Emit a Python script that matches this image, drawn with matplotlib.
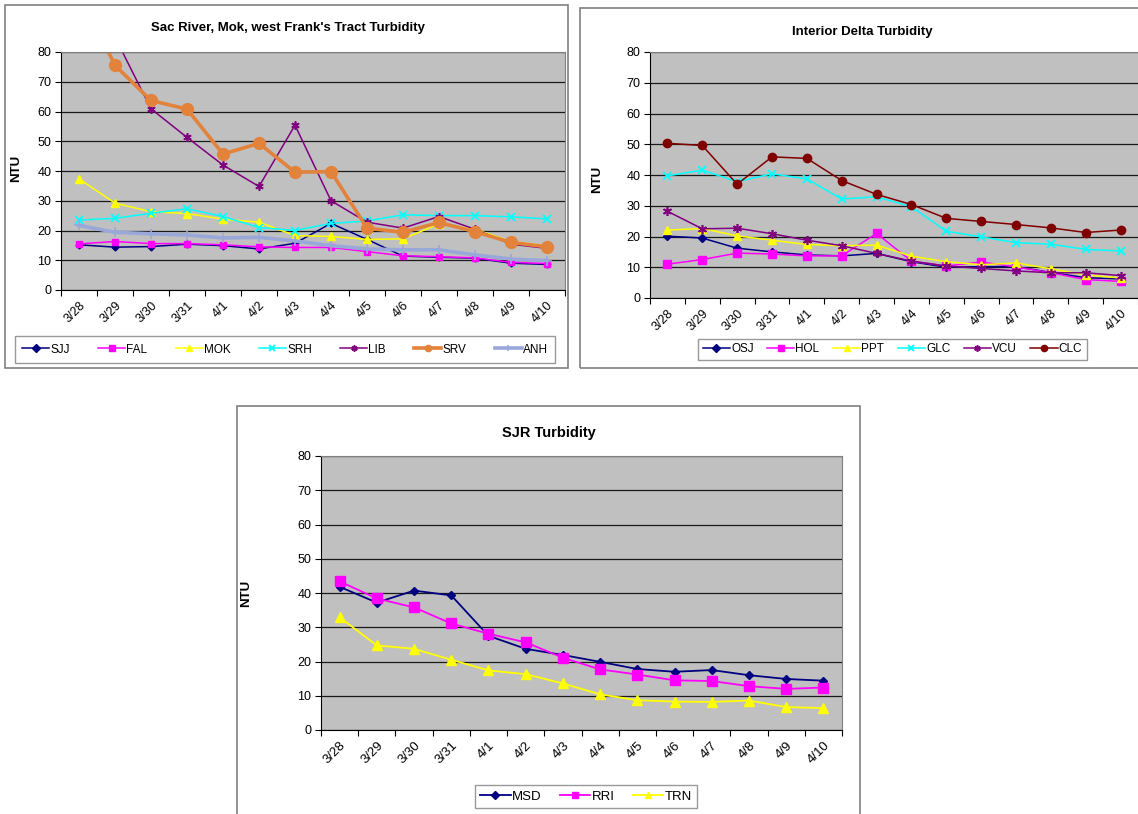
import matplotlib
matplotlib.use("Agg")
import matplotlib.pyplot as plt
from matplotlib.patches import Rectangle
import numpy as np

plt.rcParams['font.family'] = ['Liberation Sans', 'DejaVu Sans']

dates = ["3/28", "3/29", "3/30", "3/31", "4/1", "4/2", "4/3",
         "4/4", "4/5", "4/6", "4/7", "4/8", "4/9", "4/10"]

# Chart 1: Sac River, Mok, west Frank's Tract
sjj = [15.2, 14.4, 14.6, 15.4, 14.9, 13.8, 15.7, 22.4, 17.0, 11.4, 11.0, 10.7, 9.0, 8.6]
fal = [15.5, 16.3, 15.6, 15.6, 15.2, 14.5, 14.3, 14.3, 12.9, 11.5, 11.2, 10.8, 9.3, 8.9]
mok = [37.4, 29.2, 26.3, 25.7, 23.8, 22.8, 18.3, 18.0, 17.0, 17.2, 22.2, 20.4, 16.3, 14.9]
srh = [23.5, 24.1, 25.8, 27.3, 24.7, 21.0, 20.0, 22.4, 23.2, 25.3, 25.0, 25.0, 24.6, 23.9]
lib = [95.0, 85.0, 60.9, 51.3, 42.0, 34.8, 55.4, 30.0, 22.8, 20.8, 24.7, 20.4, 15.4, 14.0]
srv = [100.0, 75.5, 63.7, 60.8, 45.7, 49.3, 39.6, 39.8, 20.8, 19.4, 22.7, 19.6, 16.0, 14.5]
anh = [21.7, 19.4, 18.9, 18.5, 17.5, 17.7, 16.5, 14.9, 13.8, 13.5, 13.5, 11.8, 10.4, 9.9]

# Chart 2: Interior Delta
osj = [20.1, 19.5, 16.2, 15.0, 14.0, 13.7, 14.5, 11.8, 10.0, 10.2, 10.2, 8.3, 6.6, 6.2]
hol = [11.0, 12.5, 14.6, 14.3, 13.7, 13.7, 21.0, 12.0, 10.4, 11.7, 10.1, 8.2, 6.0, 5.4]
ppt = [22.1, 22.6, 20.2, 18.8, 17.4, 17.0, 17.2, 13.6, 11.8, 10.8, 11.4, 9.5, 7.5, 6.5]
glc = [39.7, 41.6, 37.8, 40.4, 38.7, 32.2, 32.9, 29.7, 21.7, 19.9, 18.0, 17.5, 15.8, 15.3]
vcu = [28.2, 22.5, 22.7, 20.9, 18.8, 17.0, 14.5, 12.0, 10.4, 9.6, 8.8, 8.2, 8.2, 7.3]
clc = [50.3, 49.6, 37.0, 45.9, 45.4, 38.2, 33.7, 30.4, 25.9, 24.9, 23.9, 22.8, 21.3, 22.1]

# Chart 3: SJR
msd = [41.8, 37.2, 40.7, 39.3, 27.5, 23.7, 21.9, 19.9, 17.8, 17.0, 17.5, 16.0, 14.9, 14.4]
rri = [43.4, 38.4, 35.8, 31.1, 28.1, 25.6, 21.1, 17.7, 16.2, 14.5, 14.3, 12.8, 12.0, 12.4]
trn = [32.9, 24.7, 23.7, 20.5, 17.4, 16.3, 13.6, 10.4, 8.7, 8.3, 8.2, 8.6, 6.7, 6.4]

W, H = 1138, 814
fig = plt.figure(figsize=(W / 100, H / 100), dpi=100)
fig.patch.set_facecolor('white')


def fx(x):
    return x / W


def fy(y):
    return 1 - y / H


def panel(x0, y0, x1, y1):
    fig.add_artist(Rectangle((fx(x0), fy(y1)), fx(x1) - fx(x0), fy(y0) - fy(y1),
                             transform=fig.transFigure, fill=False,
                             edgecolor='#808080', linewidth=1.2))


def make_axes(l, t, r, b, xfs=9):
    ax = fig.add_axes([fx(l), fy(b), fx(r) - fx(l), fy(t) - fy(b)])
    ax.set_facecolor('#C0C0C0')
    ax.set_xlim(-0.5, len(dates) - 0.5)
    ax.set_ylim(0, 80)
    ax.set_yticks(np.arange(0, 81, 10))
    ax.yaxis.grid(True, color='#1a1a1a', linewidth=0.9)
    ax.set_axisbelow(True)
    ax.set_xticks(np.arange(-0.5, len(dates), 1.0))
    ax.set_xticklabels([])
    ax.set_xticks(np.arange(len(dates)), minor=True)
    ax.set_xticklabels(dates, minor=True, rotation=45, ha='right', va='top',
                       rotation_mode='anchor', fontsize=xfs)
    ax.tick_params(axis='x', which='minor', length=0, pad=7)
    ax.tick_params(axis='x', which='major', length=4, direction='out', color='black')
    ax.tick_params(axis='y', length=4, direction='out', labelsize=9, pad=3)
    for s in ['top', 'right']:
        ax.spines[s].set_color('#808080')
    for s in ['left', 'bottom']:
        ax.spines[s].set_color('black')
    ax.set_ylabel('NTU', fontsize=9.5, fontweight='bold')
    return ax


def shrink_legend_markers(leg, size=4.5):
    for h in leg.legend_handles:
        h.set_markersize(size)


x = np.arange(len(dates))
thin = 1.1

# ---------- Panel 1 ----------
panel(5, 5, 568, 368)
ax1 = make_axes(61, 52, 565, 290)
ax1.yaxis.set_label_coords(-0.077, 0.51)
ax1.plot(x, sjj, color='#000080', marker='D', ms=3.5, lw=thin, label='SJJ')
ax1.plot(x, fal, color='#FF00FF', marker='s', ms=5, lw=thin, label='FAL')
ax1.plot(x, mok, color='#FFFF00', marker='^', ms=5.5, lw=thin, label='MOK')
ax1.plot(x, srh, color='#00FFFF', marker='x', ms=5.5, mew=1.3, lw=thin, label='SRH')
ax1.plot(x, lib, color='#800080', marker=(6, 2, 0), ms=6, mew=1.2, lw=thin, label='LIB')
ax1.plot(x, srv, color='#E3823B', marker='o', ms=8.5, lw=2.6, label='SRV')
ax1.plot(x, anh, color='#99A8D8', marker='+', ms=7, mew=1.2, lw=2.6, label='ANH')
fig.text(fx(288), fy(28), "Sac River, Mok, west Frank's Tract Turbidity",
         ha='center', va='center', fontsize=9.5, fontweight='bold')
leg1 = ax1.legend(loc='center', ncol=7, mode='expand',
                  bbox_to_anchor=(fx(15), fy(366), fx(555) - fx(15), fy(333) - fy(366)),
                  bbox_transform=fig.transFigure, fontsize=8.5, frameon=True,
                  fancybox=False, edgecolor='#808080', handlelength=2.3,
                  handletextpad=0.1, borderaxespad=0, borderpad=0.6)
leg1.get_frame().set_linewidth(1.0)
shrink_legend_markers(leg1, 4.5)

# ---------- Panel 2 ----------
panel(580, 8, 1140, 368)
ax2 = make_axes(650, 52, 1138, 298)
ax2.yaxis.set_label_coords(-0.096, 0.48)
ax2.spines['right'].set_visible(False)
ax2.plot(x, osj, color='#000080', marker='D', ms=4, lw=thin, label='OSJ')
ax2.plot(x, hol, color='#FF00FF', marker='s', ms=6, lw=thin, label='HOL')
ax2.plot(x, ppt, color='#FFFF00', marker='^', ms=6, lw=thin, label='PPT')
ax2.plot(x, glc, color='#00FFFF', marker='x', ms=6, mew=1.3, lw=thin, label='GLC')
ax2.plot(x, vcu, color='#800080', marker=(6, 2, 0), ms=6.5, mew=1.2, lw=thin, label='VCU')
ax2.plot(x, clc, color='#800000', marker='o', ms=6, lw=thin, label='CLC')
fig.text(fx(862), fy(32), "Interior Delta Turbidity",
         ha='center', va='center', fontsize=9.5, fontweight='bold')
leg2 = ax2.legend(loc='center', ncol=6, mode='expand',
                  bbox_to_anchor=(fx(698), fy(362), fx(1087) - fx(698), fy(337) - fy(362)),
                  bbox_transform=fig.transFigure, fontsize=8.5, frameon=True,
                  fancybox=False, edgecolor='#808080', handlelength=2.3,
                  handletextpad=0.1, borderaxespad=0, borderpad=0.4)
leg2.get_frame().set_linewidth(1.0)
shrink_legend_markers(leg2, 4.5)

# ---------- Panel 3 ----------
panel(237, 406, 860, 820)
ax3 = make_axes(321, 456, 842, 730, xfs=9.5)
ax3.yaxis.set_label_coords(-0.132, 0.5)
ax3.plot(x, msd, color='#000080', marker='D', ms=4.5, lw=1.3, label='MSD')
ax3.plot(x, rri, color='#FF00FF', marker='s', ms=6.5, lw=1.3, label='RRI')
ax3.plot(x, trn, color='#FFFF00', marker='^', ms=6.5, lw=1.3, label='TRN')
fig.text(fx(549), fy(433), "SJR Turbidity",
         ha='center', va='center', fontsize=10.5, fontweight='bold')
leg3 = ax3.legend(loc='center', ncol=3, mode='expand',
                  bbox_to_anchor=(fx(475), fy(810), fx(697) - fx(475), fy(783) - fy(810)),
                  bbox_transform=fig.transFigure, fontsize=9.5, frameon=True,
                  fancybox=False, edgecolor='#808080', handlelength=2.3,
                  handletextpad=0.1, borderaxespad=0, borderpad=0.4)
leg3.get_frame().set_linewidth(1.0)
shrink_legend_markers(leg3, 4.5)

fig.savefig('out.png', dpi=100, facecolor='white')
